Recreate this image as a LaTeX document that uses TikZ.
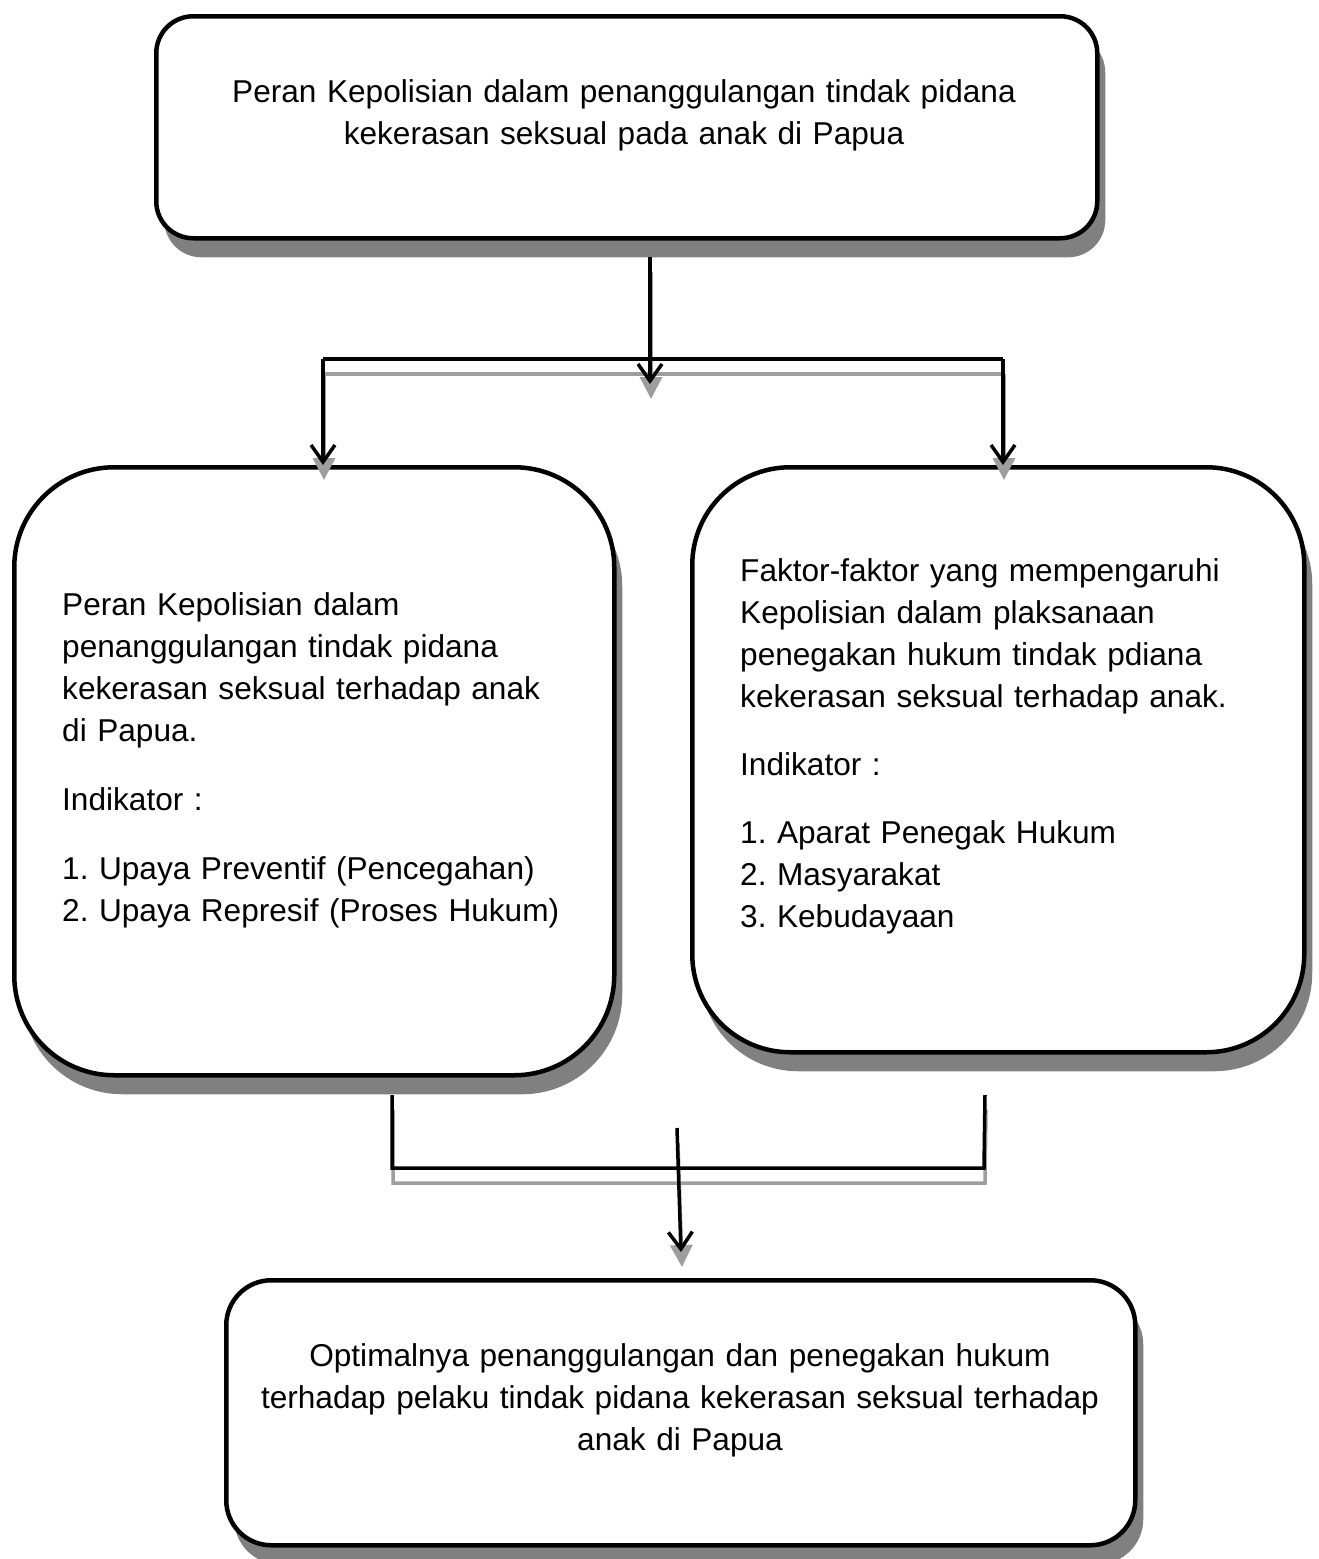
\documentclass[tikz,border=0pt]{standalone}
\usepackage{fontspec}
\setmainfont{Liberation Sans}
\usetikzlibrary{arrows.meta,shadows}
\begin{document}
\frenchspacing
\begin{tikzpicture}[x=1pt,y=-1pt,
  box/.style={draw=black, line width=4.5pt, fill=white, rectangle, inner sep=0pt, anchor=north west,
    drop shadow={shadow xshift=8pt, shadow yshift=-19pt, fill=gray, opacity=1}},
  txt/.style={font=\fontsize{31.6}{42}\selectfont, inner sep=0pt},
  tip/.style={-{Straight Barb[length=17pt,width=24pt]}},
]
\useasboundingbox (0,0) rectangle (1319,1559);
\fill[white] (0,0) rectangle (1319,1559);

% boxes
\node[box, minimum width=941pt, minimum height=222pt, rounded corners=37pt] (top) at (154,14) {};
\node[box, minimum width=600pt, minimum height=608pt, rounded corners=100pt] (left) at (12,465) {};
\node[box, minimum width=612pt, minimum height=585pt, rounded corners=98pt] (right) at (690,465) {};
\node[box, minimum width=909pt, minimum height=265pt, rounded corners=45pt] (bottom) at (224,1278) {};

% texts
\node[txt, align=center, text width=940pt, anchor=base] (toptext) at (624,102)
  {Peran Kepolisian dalam penanggulangan tindak pidana\\kekerasan seksual pada anak di Papua};
\node[txt, align=left, text width=560pt, anchor=base west] (lefttext) at (62,615)
  {Peran Kepolisian dalam\\penanggulangan tindak pidana\\kekerasan seksual terhadap anak\\di Papua.\\[27pt]Indikator :\\[27pt]1. Upaya Preventif (Pencegahan)\\2. Upaya Represif (Proses Hukum)};
\node[txt, align=left, text width=580pt, anchor=base west] (righttext) at (740,581)
  {Faktor-faktor yang mempengaruhi\\Kepolisian dalam plaksanaan\\penegakan hukum tindak pdiana\\kekerasan seksual terhadap anak.\\[26pt]Indikator :\\[26pt]1. Aparat Penegak Hukum\\2. Masyarakat\\3. Kebudayaan};
\node[txt, align=center, text width=900pt, anchor=base] (bottomtext) at (680,1366)
  {Optimalnya penanggulangan dan penegakan hukum\\terhadap pelaku tindak pidana kekerasan seksual terhadap\\anak di Papua};

% connector coordinates
\coordinate (a0) at (650,257);
\coordinate (a1) at (650,384);
\coordinate (hl) at (323,359);
\coordinate (hr) at (1003,359);
\coordinate (bl) at (392,1095);
\coordinate (bl2) at (392,1168);
\coordinate (br) at (985,1095);
\coordinate (br2) at (984,1168);
\coordinate (m0) at (677,1128);
\coordinate (m1) at (681,1252);

\newcommand{\drawconnectors}{%
  \draw[c, tip] (a0) -- (a1);
  \draw[c] (hl) -- (hr);
  \draw[c, tip] (hl) -- (hl |- left.north);
  \draw[c, tip] (hr) -- (hr |- right.north);
  \draw[c, line join=miter] (bl) -- (bl2) -- (br2) -- (br);
  \draw[c, tip] (m0) -- (m1);
}
\begin{scope}[transform canvas={xshift=1pt, yshift=-15pt}, c/.style={line width=3.5pt, draw=black!38},
    tip/.style={-{Triangle[length=22pt,width=22pt]}}]
  \drawconnectors
\end{scope}
\begin{scope}[c/.style={line width=3.5pt, draw=black}]
  \drawconnectors
\end{scope}
\end{tikzpicture}
\end{document}
